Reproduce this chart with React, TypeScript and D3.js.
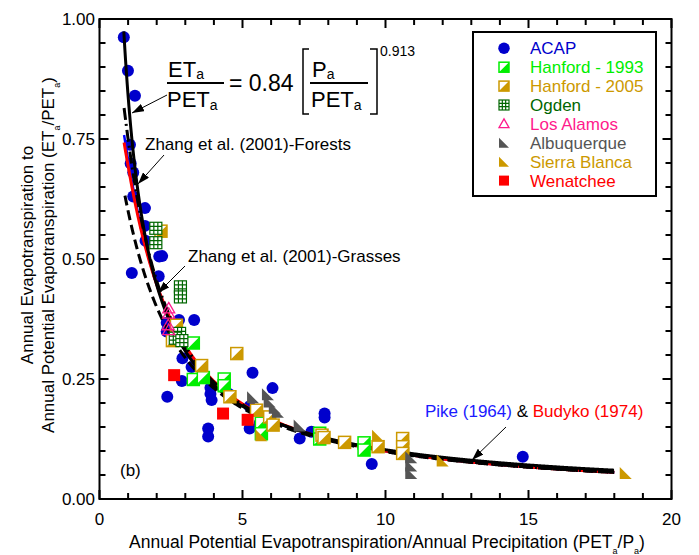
import React from "react";
import * as d3 from "d3";

const W = 699;
const H = 555;
const FONT = "'Liberation Sans', Arial, Helvetica, sans-serif";

// ---- axes ----
const xTicks = [0, 5, 10, 15, 20];
const yTicks = [0, 0.25, 0.5, 0.75, 1];
const yTickLabels = ["0.00", "0.25", "0.50", "0.75", "1.00"];

// ---- data (PET/P, ET/PET) ----
const acap: [number, number][] = [
  [0.85, 0.962], [0.995, 0.892], [1.24, 0.84], [1.065, 0.738], [1.09, 0.699],
  [1.18, 0.68], [1.18, 0.63], [1.59, 0.606], [1.59, 0.569], [1.61, 0.538],
  [2.09, 0.505], [2.19, 0.506], [1.13, 0.471], [2.07, 0.464], [2.35, 0.367],
  [2.35, 0.349], [2.78, 0.373], [3.31, 0.373], [2.9, 0.293], [3.22, 0.275],
  [2.88, 0.246], [2.37, 0.213], [3.88, 0.232], [3.88, 0.219], [3.92, 0.206],
  [3.8, 0.147], [3.8, 0.13], [4.5, 0.22], [5.35, 0.263], [6.05, 0.231],
  [5.25, 0.193], [5.25, 0.147], [5.6, 0.158], [7.0, 0.126], [7.41, 0.14],
  [7.87, 0.178], [7.87, 0.17], [9.52, 0.073], [14.8, 0.088],
];
const hanford1993: [number, number][] = [
  [3.28, 0.325], [3.28, 0.249], [3.63, 0.253], [4.36, 0.25], [4.36, 0.236],
  [5.66, 0.158], [5.66, 0.136], [7.7, 0.137], [7.7, 0.125], [9.25, 0.117], [9.25, 0.102],
];
const hanford2005: [number, number][] = [
  [2.15, 0.558], [2.69, 0.362], [2.55, 0.33], [3.57, 0.278], [4.8, 0.303],
  [4.56, 0.213], [5.49, 0.185], [5.95, 0.171], [6.07, 0.154], [7.78, 0.133],
  [7.85, 0.128], [8.57, 0.118], [9.74, 0.109], [10.6, 0.126], [10.6, 0.109], [10.6, 0.095],
];
const ogden: [number, number][] = [
  [1.97, 0.564], [1.97, 0.534], [2.83, 0.442], [2.83, 0.421],
  [2.8, 0.345], [2.65, 0.335], [2.88, 0.33],
];
const losAlamos: [number, number][] = [
  [2.42, 0.397], [2.42, 0.386], [2.4, 0.362], [2.42, 0.352],
];
const albuquerque: [number, number][] = [
  [5.37, 0.212], [5.89, 0.218], [5.95, 0.203], [6.13, 0.19], [6.24, 0.182],
  [7.0, 0.153], [10.9, 0.087], [10.9, 0.07], [10.9, 0.054],
];
const sierraBlanca: [number, number][] = [
  [5.66, 0.133], [9.74, 0.132], [12.0, 0.08], [18.4, 0.054],
];
const wenatchee: [number, number][] = [
  [2.61, 0.258], [4.32, 0.178], [5.18, 0.165],
];

// ---- model curve parameters ----
const eqCoef = 0.84;
const eqExp = 0.913;
const zhangForestW = 2.0;
const zhangGrassW = 0.5;
const curveEnd = 18;

type Shape = "circle" | "half" | "grid" | "tri" | "rtri" | "square";

const seriesNames = [
  "ACAP", "Hanford - 1993", "Hanford - 2005", "Ogden", "Los Alamos",
  "Albuquerque", "Sierra Blanca", "Wenatchee",
];
const seriesColors = [
  "#0000CC", "#00EE00", "#CC9900", "#006600", "#FF1A8C", "#555555", "#CC9900", "#FF0000",
];
const seriesShapes: Shape[] = ["circle", "half", "half", "grid", "tri", "rtri", "rtri", "square"];
const seriesData = [acap, hanford1993, hanford2005, ogden, losAlamos, albuquerque, sierraBlanca, wenatchee];

function Marker({ shape, color, cx, cy, s }: { shape: Shape; color: string; cx: number; cy: number; s: number }) {
  const h = s / 2;
  const t = `translate(${cx},${cy})`;
  switch (shape) {
    case "circle":
      return <circle cx={cx} cy={cy} r={h} fill={color} />;
    case "half":
      return (
        <g transform={t}>
          <rect x={-h} y={-h} width={s} height={s} fill="white" stroke={color} strokeWidth={1.5} />
          <path d={`M${h},${-h}L${h},${h}L${-h},${h}Z`} fill={color} />
        </g>
      );
    case "grid": {
      const a = -h + s / 3;
      const b = -h + (2 * s) / 3;
      return (
        <g transform={t} stroke={color} strokeWidth={1.2} fill="white">
          <rect x={-h} y={-h} width={s} height={s} />
          <path d={`M${a},${-h}V${h}M${b},${-h}V${h}M${-h},${a}H${h}M${-h},${b}H${h}`} fill="none" />
        </g>
      );
    }
    case "tri":
      return (
        <path
          transform={t}
          d={`M0,${-h}L${h},${h * 0.75}L${-h},${h * 0.75}Z`}
          fill="none"
          stroke={color}
          strokeWidth={1.3}
        />
      );
    case "rtri":
      return <path transform={t} d={`M${-h},${-h}L${-h},${h}L${h},${h}Z`} fill={color} />;
    case "square":
      return <rect x={cx - h} y={cy - h} width={s} height={s} fill={color} />;
  }
  return null;
}

export default function App() {
  const x = d3.scaleLinear().domain([0, 20]).range([99.5, 671.5]);
  const y = d3.scaleLinear().domain([0, 1]).range([499, 19]);
  const [x0, x1] = x.range();
  const [y0, y1] = y.range();

  const line = d3
    .line<number>()
    .x((d) => x(d))
    .curve(d3.curveLinear);

  const pike = (v: number) => 1 / Math.sqrt(1 + v * v);
  const budyko = (v: number) => Math.sqrt(v * Math.tanh(1 / v) * (1 - Math.exp(-v))) / v;
  const zhang = (w: number) => (v: number) => (1 + w * v) / (1 + w * v + 1 / v) / v;
  const eq = (v: number) => eqCoef * Math.pow(v, -eqExp);

  const mk = (f: (v: number) => number, start: number) => {
    const xs = d3.range(start, curveEnd + 1e-9, 0.02);
    return line.y((d) => y(f(d)))(xs) || "";
  };

  const xMinor = d3.range(0, 21, 1);
  const yMinor = d3.range(0, 1.0001, 0.05);

  return (
    <svg width={W} height={H} style={{ position: "absolute", left: 0, top: 0, background: "white" }} fontFamily={FONT}>
      <defs>
        <marker id="arr" viewBox="0 0 12 8" refX="12" refY="4" markerWidth="12" markerHeight="8" orient="auto" markerUnits="userSpaceOnUse">
          <path d="M0,0L12,4L0,8Z" fill="black" />
        </marker>
      </defs>

      {/* ACAP points below curves */}
      {acap.map((d, i) => (
        <Marker key={"a" + i} shape="circle" color={seriesColors[0]} cx={x(d[0])} cy={y(d[1])} s={12} />
      ))}

      {/* model curves */}
      <path d={mk(pike, 0.86)} fill="none" stroke="#0000FF" strokeWidth={2.5} />
      <path d={mk(budyko, 0.86)} fill="none" stroke="#FF0000" strokeWidth={3} />
      <path d={mk(zhang(zhangForestW), 0.86)} fill="none" stroke="black" strokeWidth={3} strokeDasharray="12,4,2,4" />
      <path d={mk(zhang(zhangGrassW), 0.89)} fill="none" stroke="black" strokeWidth={3} strokeDasharray="10,5" />
      <path d={mk(eq, 0.85)} fill="none" stroke="black" strokeWidth={3} />

      {/* other series */}
      {seriesData.slice(1).map((arr, k) =>
        arr.map((d, i) => (
          <Marker
            key={`s${k}-${i}`}
            shape={seriesShapes[k + 1]}
            color={seriesColors[k + 1]}
            cx={x(d[0])}
            cy={y(d[1])}
            s={12}
          />
        ))
      )}

      {/* frame & ticks */}
      <rect x={x0} y={y1} width={x1 - x0} height={y0 - y1} fill="none" stroke="black" strokeWidth={2} />
      {xMinor.map((v) => {
        const len = v % 5 === 0 ? 9 : 6;
        return (
          <g key={"xt" + v} stroke="black" strokeWidth={2}>
            <line x1={x(v)} x2={x(v)} y1={y0} y2={y0 - len} />
            <line x1={x(v)} x2={x(v)} y1={y1} y2={y1 + len} />
          </g>
        );
      })}
      {yMinor.map((v, i) => {
        const len = i % 5 === 0 ? 9 : 6;
        return (
          <g key={"yt" + i} stroke="black" strokeWidth={2}>
            <line x1={x0} x2={x0 + len} y1={y(v)} y2={y(v)} />
            <line x1={x1} x2={x1 - len} y1={y(v)} y2={y(v)} />
          </g>
        );
      })}
      {xTicks.map((v) => (
        <text key={"xl" + v} x={x(v)} y={525} fontSize={17} textAnchor="middle">
          {v}
        </text>
      ))}
      {yTicks.map((v, i) => (
        <text key={"yl" + v} x={95} y={y(v) + 6} fontSize={17} textAnchor="end">
          {yTickLabels[i]}
        </text>
      ))}

      {/* axis titles */}
      <text x={387} y={548} fontSize={17.5} textAnchor="middle">
        Annual Potential Evapotranspiration/Annual Precipitation (PET
        <tspan fontSize={9} dy={6}>a</tspan>
        <tspan dy={-6}>/P</tspan>
        <tspan fontSize={9} dy={6}>a</tspan>
        <tspan dy={-6}>)</tspan>
      </text>
      <g transform="translate(33,255) rotate(-90)">
        <text x={0} y={0} fontSize={17} textAnchor="middle">Annual Evapotranspiration to</text>
      </g>
      <g transform="translate(54,255) rotate(-90)">
        <text x={0} y={0} fontSize={17} textAnchor="middle">
          Annual Potential Evapotranspiration (ET
          <tspan fontSize={9} dy={6}>a</tspan>
          <tspan dy={-6}>/PET</tspan>
          <tspan fontSize={9} dy={6}>a</tspan>
          <tspan dy={-6}>)</tspan>
        </text>
      </g>

      {/* equation */}
      <g fontSize={22}>
        <text x={168} y={77}>ET<tspan fontSize={14} dy={2}>a</tspan></text>
        <line x1={167} x2={224} y1={83} y2={83} stroke="black" strokeWidth={2} />
        <text x={167} y={107}>PET<tspan fontSize={14} dy={3}>a</tspan></text>
        <text x={229} y={91} fontSize={23}>= 0.84</text>
        <path d="M309,49H303V114H309" fill="none" stroke="black" strokeWidth={1.5} />
        <text x={312} y={77}>P<tspan fontSize={14} dy={2}>a</tspan></text>
        <line x1={310} x2={368} y1={83} y2={83} stroke="black" strokeWidth={2} />
        <text x={311} y={107}>PET<tspan fontSize={14} dy={3}>a</tspan></text>
        <path d="M370,49H377V114H370" fill="none" stroke="black" strokeWidth={1.5} />
        <text x={380} y={56} fontSize={14}>0.913</text>
      </g>

      {/* annotations */}
      <line x1={167} y1={95} x2={132} y2={113} stroke="black" strokeWidth={1} markerEnd="url(#arr)" />
      <text x={145} y={150} fontSize={17}>Zhang et al. (2001)-Forests</text>
      <line x1={164} y1={155} x2={138} y2={184} stroke="black" strokeWidth={1} markerEnd="url(#arr)" />
      <text x={188} y={262} fontSize={17}>Zhang et al. (2001)-Grasses</text>
      <line x1={185} y1={266} x2={158} y2={293} stroke="black" strokeWidth={1} markerEnd="url(#arr)" />
      <text x={425} y={417} fontSize={17}>
        <tspan fill="#1A1AFF">Pike (1964)</tspan>
        <tspan fill="black"> &amp; </tspan>
        <tspan fill="#FF0000">Budyko (1974)</tspan>
      </text>
      <line x1={506} y1={427} x2={472} y2={460} stroke="black" strokeWidth={1} markerEnd="url(#arr)" />
      <text x={120} y={476} fontSize={17}>(b)</text>

      {/* legend */}
      <rect x={473} y={32} width={183} height={164} fill="white" stroke="black" strokeWidth={2} />
      {seriesNames.map((name, i) => {
        const cy = 48.3 + i * 18.9;
        return (
          <g key={"lg" + i}>
            <Marker shape={seriesShapes[i]} color={seriesColors[i]} cx={504} cy={cy} s={i === 0 ? 11.5 : 10} />
            <text x={530} y={cy + 6} fontSize={17} fill={seriesColors[i]}>
              {name}
            </text>
          </g>
        );
      })}
    </svg>
  );
}
